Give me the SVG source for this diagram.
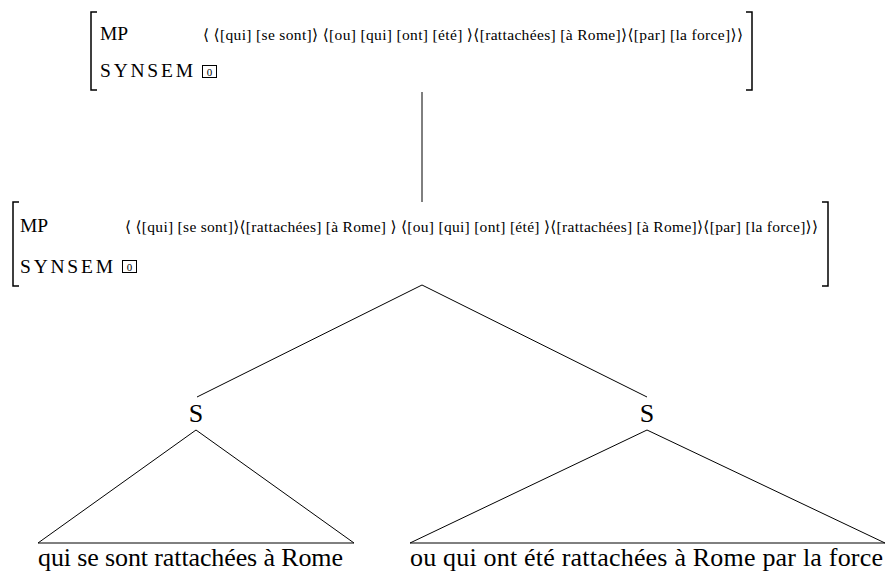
<svg xmlns="http://www.w3.org/2000/svg" width="886" height="574" viewBox="0 0 886 574">
<style>
.br{fill:none;stroke:#000;stroke-width:1.5}
.ln{fill:none;stroke:#000;stroke-width:1}
text{font-family:'Liberation Serif','Times New Roman',Times,'DejaVu Serif',serif;fill:#000}
.lab{font-size:19.5px}
.syn{font-size:19.5px}
.sm{font-size:15.5px}
.big{font-size:26px}
.bx{fill:none;stroke:#000;stroke-width:1}
.tag{font-size:11px;text-anchor:middle}
</style>
<rect width="886" height="574" fill="#fff"/>
<g id="avm-top">
  <path class="br" d="M97,12 H91 V90 H97"/>
  <path class="br" d="M746,12 H752 V90 H746"/>
  <text class="lab" x="100" y="40">MP</text>
  <text class="sm" x="203" y="40" textLength="540" lengthAdjust="spacing">⟨ ⟨[qui] [se sont]⟩ ⟨[ou] [qui] [ont] [été] ⟩⟨[rattachées] [à Rome]⟩⟨[par] [la force]⟩⟩</text>
  <text class="syn" x="100" y="77" textLength="93" lengthAdjust="spacing">SYNSEM</text>
  <rect class="bx" x="202.5" y="65.5" width="14" height="12"/>
  <text class="tag" x="209.5" y="75.5">0</text>
</g>
<g id="avm-mid">
  <path class="br" d="M19,202 H13 V286 H19"/>
  <path class="br" d="M822,202 H828 V286 H822"/>
  <text class="lab" x="20" y="232">MP</text>
  <text class="sm" x="125" y="232" textLength="693" lengthAdjust="spacing">⟨ ⟨[qui] [se sont]⟩⟨[rattachées] [à Rome] ⟩ ⟨[ou] [qui] [ont] [été] ⟩⟨[rattachées] [à Rome]⟩⟨[par] [la force]⟩⟩</text>
  <text class="syn" x="20" y="273" textLength="93" lengthAdjust="spacing">SYNSEM</text>
  <rect class="bx" x="122.5" y="260.5" width="14" height="12"/>
  <text class="tag" x="129.5" y="270.5">0</text>
</g>
<g id="s-left">
  <text class="big" x="196" y="422" text-anchor="middle">S</text>
</g>
<g id="s-right">
  <text class="big" x="647" y="422" text-anchor="middle">S</text>
</g>
<g id="leaf-left">
  <path class="ln" d="M196,430 L38,543 H354 Z"/>
  <text class="big" x="38" y="566" textLength="305" lengthAdjust="spacing">qui se sont rattachées à Rome</text>
</g>
<g id="leaf-right">
  <path class="ln" d="M647,430 L410,543 H885 Z"/>
  <text class="big" x="410" y="566" textLength="473" lengthAdjust="spacing">ou qui ont été rattachées à Rome par la force</text>
</g>
<g id="connectors">
  <line class="ln" x1="422" y1="92" x2="422" y2="202"/>
  <line class="ln" x1="422" y1="285" x2="197" y2="397"/>
  <line class="ln" x1="422" y1="285" x2="647" y2="397"/>
</g>
</svg>
